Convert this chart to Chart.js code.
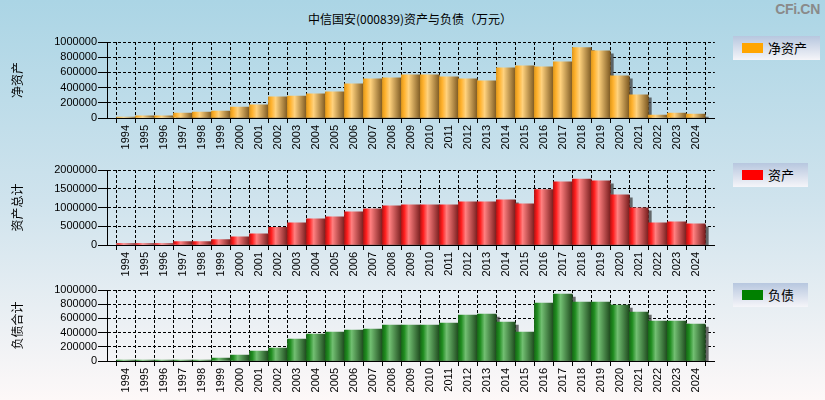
<!DOCTYPE html>
<html>
<head>
<meta charset="utf-8">
<script src="https://cdn.jsdelivr.net/npm/chart.js@4/dist/chart.umd.min.js"></script>
<style>
  html, body { margin: 0; padding: 0; }
  body {
    width: 825px; height: 400px; position: relative; overflow: hidden;
    background: linear-gradient(to bottom, #abd5e5 0%, #cfe3ed 50%, #fdf8f8 100%);
    font-family: "Noto Sans CJK SC", "Liberation Sans", sans-serif;
  }
  #title { position: absolute; left: 0; width: 820px; top: 10px; text-align: center; font-size: 12px; color: #000; }
  #logo { position: absolute; right: 5px; top: 1px; font: bold 14px "Liberation Sans", Arial, sans-serif; color: #8a8a8a; letter-spacing: -0.3px; }
  .box { position: absolute; left: 0; width: 730px; }
  .legend {
    position: absolute; left: 733px; height: 24px;
    background: linear-gradient(to bottom, #b7c7df 0%, #f5f5f9 100%);
    font-size: 13px; line-height: 24px; color: #000;
  }
  .legend i { position: absolute; left: 9px; top: 7px; width: 21px; height: 10px; }
  .legend span { position: absolute; left: 35px; top: 0; }
</style>
</head>
<body>
<div id="title">中信国安(000839)资产与负债（万元）</div>
<div id="logo">CFi.CN</div>

<div class="box" style="top:32px;height:121px"><canvas id="c1"></canvas></div>
<div class="box" style="top:160px;height:120px"><canvas id="c2"></canvas></div>
<div class="box" style="top:280px;height:116px"><canvas id="c3"></canvas></div>

<div class="legend" style="top:36px;width:87px"><i style="background:#ffa500"></i><span>净资产</span></div>
<div class="legend" style="top:163px;width:75px"><i style="background:#ff0000"></i><span>资产</span></div>
<div class="legend" style="top:283px;width:75px"><i style="background:#008000"></i><span>负债</span></div>

<script>
// years on the x axis
const years = ['1994','1995','1996','1997','1998','1999','2000','2001','2002','2003','2004',
  '2005','2006','2007','2008','2009','2010','2011','2012','2013','2014','2015','2016',
  '2017','2018','2019','2020','2021','2022','2023','2024'];

// 净资产 (net assets, 万元)
const netAssets = [12000, 27000, 27000, 66000, 79000, 92000, 145000, 172000, 277000, 290000, 317000,
  344000, 449000, 515000, 529000, 568000, 568000, 542000, 515000, 489000, 661000, 687000, 674000,
  740000, 925000, 885000, 555000, 304000, 40000, 66000, 53000];

// 资产总计 (total assets)
const totalAssets = [35000, 35000, 35000, 88000, 88000, 142000, 221000, 301000, 469000, 593000, 699000,
  752000, 885000, 965000, 1044000, 1071000, 1071000, 1071000, 1150000, 1150000, 1204000, 1097000, 1478000,
  1682000, 1761000, 1708000, 1336000, 991000, 593000, 620000, 566000];

// 负债合计 (total liabilities)
const liabilities = [14000, 14000, 14000, 14000, 14000, 42000, 85000, 141000, 183000, 310000, 380000,
  408000, 437000, 451000, 507000, 507000, 507000, 535000, 648000, 662000, 549000, 408000, 817000,
  944000, 831000, 831000, 789000, 690000, 563000, 563000, 521000];

// one empty slot at each end, as in the original axis
const labels = [''].concat(years, ['']);
const pad = arr => [null].concat(arr, [null]);

// cylinder-like shading per bar, built from the x scale
function shade(stops) {
  return function (c) {
    const chart = c.chart;
    const xs = chart.scales && chart.scales.x;
    if (c.type !== 'data' || !xs || !chart.chartArea) return stops[2];
    const cx = xs.getPixelForValue(c.dataIndex);
    const half = (xs.getPixelForValue(1) - xs.getPixelForValue(0)) / 2;
    const g = chart.ctx.createLinearGradient(cx - half, 0, cx + half, 0);
    g.addColorStop(0, stops[0]);
    g.addColorStop(0.15, stops[1]);
    g.addColorStop(0.38, stops[2]);
    g.addColorStop(1, stops[3]);
    return g;
  };
}

const barShadow = {
  id: 'barShadow',
  beforeDatasetsDraw(chart) {
    const ctx = chart.ctx;
    ctx.save();
    ctx.shadowColor = 'rgba(60,60,60,0.75)';
    ctx.shadowOffsetX = 3;
    ctx.shadowOffsetY = 3;
    ctx.shadowBlur = 0;
  },
  afterDatasetsDraw(chart) { chart.ctx.restore(); }
};

const tickFont = { family: '"Liberation Sans", Arial, sans-serif', size: 11 };

function makeChart(id, name, values, yMax, yStep, stops) {
  new Chart(document.getElementById(id), {
    type: 'bar',
    data: {
      labels: labels,
      datasets: [{
        label: name,
        data: pad(values),
        backgroundColor: shade(stops),
        borderWidth: 0,
        barPercentage: 1,
        categoryPercentage: 1
      }]
    },
    options: {
      responsive: true,
      maintainAspectRatio: false,
      animation: false,
      layout: { padding: { top: 10, right: 14, left: 0, bottom: 0 } },
      plugins: { legend: { display: false }, tooltip: { enabled: false } },
      scales: {
        x: {
          offset: false,
          grid: { color: '#000', lineWidth: 1, tickLength: 5, tickColor: '#000' },
          border: { display: true, color: '#000', width: 1, dash: [3, 2] },
          ticks: { color: '#000', font: tickFont, minRotation: 90, maxRotation: 90, padding: 2, autoSkip: false },
          afterFit(s) { s.height = 35; }
        },
        y: {
          min: 0, max: yMax,
          grid: { color: '#000', lineWidth: 1, tickLength: 9, tickColor: '#000' },
          border: { display: true, color: '#000', width: 1, dash: [3, 2] },
          ticks: { color: '#000', font: tickFont, stepSize: yStep, padding: 1, autoSkip: false,
            callback: v => String(v) },
          title: { display: true, text: name, color: '#000', padding: { top: 10, bottom: 0 },
            font: { family: '"Noto Sans CJK SC", sans-serif', size: 12 } },
          afterFit(s) { s.width = 107; }
        }
      }
    },
    plugins: [barShadow]
  });
}

makeChart('c1', '净资产', netAssets, 1000000, 200000, ['#e39a1c', '#ffb22e', '#ffd27e', '#7e5a22']);
makeChart('c2', '资产总计', totalAssets, 2000000, 500000, ['#b81414', '#ff1c1c', '#ff8080', '#7a1e1e']);
makeChart('c3', '负债合计', liabilities, 1000000, 200000, ['#176a17', '#1f8c1f', '#72bf72', '#1d4a1d']);
</script>
</body>
</html>
